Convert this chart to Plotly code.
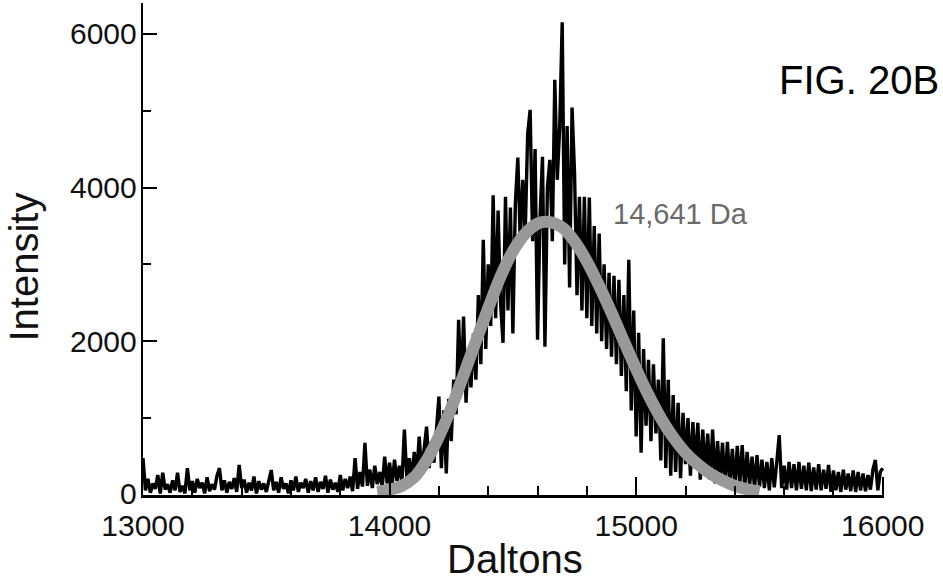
import plotly.graph_objects as go

# ---------------- data ----------------
mass_start, mass_step = 13000, 10

intensity_baseline = [  # 13000 - 13890 Da
    480, 60, 210, 30, 150, 80, 260, 20, 290, 70,
    140, 30, 190, 60, 290, 40, 120, 20, 350, 60,
    180, 30, 210, 90, 160, 20, 230, 50, 140, 70,
    250, 350, 60, 190, 30, 170, 80, 220, 40, 390,
    90, 200, 30, 160, 60, 240, 20, 180, 70, 150,
    40, 210, 325, 60, 170, 30, 230, 80, 150, 20,
    190, 60, 240, 40, 160, 90, 210, 30, 180, 60,
    230, 40, 170, 80, 250, 30, 200, 70, 160, 40,
    260, 60, 210, 90, 240, 50, 480, 80, 300, 110,
]
intensity_rise = [  # 13900 - 14390 Da
    680, 120, 330, 90, 380, 140, 300, 100, 500, 150,
    420, 120, 460, 180, 380, 160, 850, 220, 480, 200,
    560, 260, 760, 300, 620, 890, 350, 700, 420, 820,
    1280, 350, 1100, 280, 1250, 700, 1500, 1050, 2280, 1300,
    2320, 1200, 1900, 1400, 2100, 1500, 2600, 1700, 3320, 1900,
]
intensity_peak = [  # 14400 - 14990 Da
    3000, 2200, 3900, 2300, 3700, 2500, 1980, 3880, 2400, 3740,
    2100, 3790, 4390, 3300, 4100, 3400, 4700, 5010, 3300, 4500,
    2020, 3600, 4400, 1930, 4000, 4360, 3300, 5400, 4100, 4800,
    6150, 3000, 4800, 2700, 5040, 4190, 2600, 3880, 2400, 3880,
    2300, 3870, 2200, 3500, 2100, 3400, 2000, 3000, 1900, 2890,
    1800, 2850, 1700, 2800, 1550, 2600, 1350, 3060, 1100, 2400,
]
intensity_fall = [  # 15000 - 15490 Da
    760, 2110, 550, 1900, 900, 1760, 700, 1700, 800, 1500,
    450, 2040, 350, 1500, 250, 1300, 300, 1200, 220, 1070,
    400, 1000, 250, 950, 350, 940, 200, 850, 250, 800,
    200, 850, 150, 700, 180, 680, 120, 690, 150, 600,
    100, 640, 130, 650, 90, 560, 120, 500, 80, 520,
]
intensity_tail = [  # 15500 - 16000 Da
    110, 460, 90, 430, 60, 480, 100, 420, 780, 90,
    380, 70, 430, 90, 400, 60, 430, 80, 380, 60,
    420, 50, 360, 70, 400, 60, 330, 80, 390, 40,
    320, 60, 300, 40, 330, 70, 280, 50, 320, 40,
    300, 60, 280, 50, 260, 70, 330, 455, 60, 300,
    350,
]
intensity = (intensity_baseline + intensity_rise + intensity_peak
             + intensity_fall + intensity_tail)
daltons = [mass_start + mass_step * i for i in range(len(intensity))]

fit_daltons = [13950, 14000, 14050, 14100, 14150, 14200, 14250, 14300, 14350,
               14400, 14450, 14500, 14550, 14600, 14650, 14700, 14750, 14800,
               14850, 14900, 14950, 15000, 15050, 15100, 15150, 15200, 15250,
               15300, 15350, 15400, 15450, 15500]
fit_intensity = [40, 70, 120, 230, 450, 760, 1130, 1560, 2000,
                 2430, 2840, 3170, 3400, 3530, 3550, 3480, 3300, 3040,
                 2720, 2370, 2000, 1640, 1300, 1000, 750, 550, 400,
                 280, 190, 120, 75, 45]

x_ticks = [13000, 14000, 15000, 16000]
y_ticks = [0, 2000, 4000, 6000]
peak_label = "14,641 Da"

FONT = "Liberation Sans, Arial, Helvetica, sans-serif"
TXT = "#111111"

fig = go.Figure()
fig.add_trace(go.Scatter(x=daltons, y=intensity, mode="lines",
                         line=dict(color="black", width=3.4),
                         hoverinfo="skip", showlegend=False))
fig.add_trace(go.Scatter(x=fit_daltons, y=fit_intensity, mode="lines",
                         line=dict(color="#999999", width=12, shape="spline"),
                         hoverinfo="skip", showlegend=False))

annotations = [
    dict(text="Daltons", xref="paper", yref="paper", x=0.502, y=-0.130,
         xanchor="center", yanchor="middle", showarrow=False,
         font=dict(size=40, family=FONT, color=TXT)),
    dict(text="Intensity", xref="paper", yref="paper", x=-0.1925, y=0.463,
         xanchor="left", yanchor="middle", textangle=-90, showarrow=False,
         font=dict(size=40, family=FONT, color=TXT)),
    dict(text="FIG. 20B", xref="paper", yref="paper", x=0.966, y=0.843,
         xanchor="center", yanchor="middle", showarrow=False,
         font=dict(size=40, family=FONT, color="black")),
    dict(text=peak_label, xref="x", yref="y", x=14898, y=3650,
         xanchor="left", yanchor="middle", showarrow=False,
         font=dict(size=29, family=FONT, color="#6a6a6a")),
]
# y tick labels placed close to the axis line, as in the reference
for v in y_ticks:
    annotations.append(dict(text=str(v), xref="paper", yref="y", x=0, y=v,
                            xanchor="right", yanchor="middle", xshift=-4,
                            yshift=2 if v == 0 else 0,
                            showarrow=False,
                            font=dict(size=30, family=FONT, color=TXT)))

fig.update_layout(
    width=943, height=581,
    margin=dict(l=143, r=59, t=3, b=86),
    paper_bgcolor="white", plot_bgcolor="white",
    font=dict(family=FONT, color=TXT),
    showlegend=False,
    xaxis=dict(range=[13000, 16005], tickvals=x_ticks,
               ticktext=[str(v) for v in x_ticks],
               ticks="inside", ticklen=18, tickwidth=2, tickcolor="black",
               minor=dict(ticks="inside", dtick=200, tick0=13000, ticklen=9,
                          tickwidth=2, tickcolor="black"),
               showline=True, linecolor="black", linewidth=2.5,
               showgrid=False, zeroline=False, automargin=False,
               tickfont=dict(size=30, family=FONT, color=TXT),
               ticklabelstandoff=2),
    yaxis=dict(range=[0, 6400], tickvals=y_ticks, showticklabels=False,
               ticks="inside", ticklen=14, tickwidth=2, tickcolor="black",
               minor=dict(ticks="inside", dtick=1000, tick0=0, ticklen=8,
                          tickwidth=2, tickcolor="black"),
               showline=True, linecolor="black", linewidth=2.5,
               showgrid=False, zeroline=False, automargin=False),
    annotations=annotations,
)

fig.write_html("out.html",
               config={"displayModeBar": False, "staticPlot": True},
               post_script="document.body.style.margin='0';"
                           "document.body.style.overflow='hidden';")
